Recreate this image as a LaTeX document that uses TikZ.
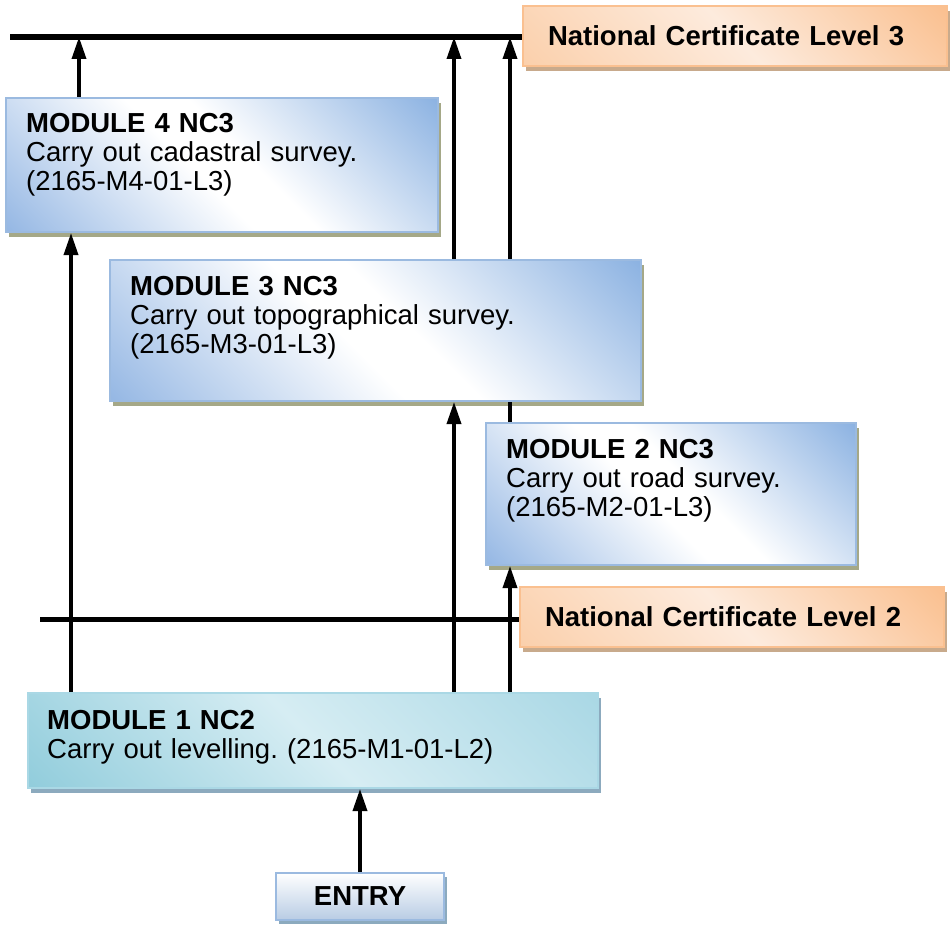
\documentclass[tikz,border=0pt]{standalone}
\usepackage{fontspec}
\setmainfont{Liberation Sans}
\usetikzlibrary{arrows.meta,shadows}
\frenchspacing

\definecolor{modblue}{RGB}{141,179,226}
\definecolor{modblueb}{RGB}{150,184,228}
\definecolor{modline}{RGB}{155,186,224}
\definecolor{modcyan}{RGB}{146,205,220}
\definecolor{modcyanb}{RGB}{170,216,229}
\definecolor{cyanlight}{RGB}{214,237,243}
\definecolor{cyanline}{RGB}{170,216,229}
\definecolor{ncorange}{RGB}{250,192,144}
\definecolor{ncorangeb}{RGB}{251,208,172}
\definecolor{nclight}{RGB}{253,235,221}
\definecolor{entryblue}{RGB}{184,204,228}
\definecolor{shadowgreen}{RGB}{165,168,135}
\definecolor{shadowbrown}{RGB}{200,170,140}
\definecolor{shadowblue}{RGB}{140,170,190}

\pgfdeclarehorizontalshading{bluediag}{100bp}{color(0bp)=(modblueb); color(15bp)=(modblueb); color(46bp)=(white); color(54bp)=(white); color(85bp)=(modblue); color(100bp)=(modblue)}
\pgfdeclarehorizontalshading{cyandiag}{100bp}{color(0bp)=(modcyan); color(15bp)=(modcyan); color(50bp)=(cyanlight); color(85bp)=(modcyanb); color(100bp)=(modcyanb)}
\pgfdeclarehorizontalshading{orangediag}{100bp}{color(0bp)=(ncorangeb); color(15bp)=(ncorangeb); color(50bp)=(nclight); color(85bp)=(ncorange); color(100bp)=(ncorange)}

\tikzset{
  modbox/.style={draw=modline, line width=2pt, shade, shading=bluediag, shading angle=45,
    drop shadow={shadow xshift=3pt, shadow yshift=-5pt, fill=shadowgreen, opacity=1},
    anchor=north west, inner sep=0pt},
  firstbox/.style={modbox, draw=cyanline, shading=cyandiag,
    drop shadow={shadow xshift=3pt, shadow yshift=-5pt, fill=shadowblue, opacity=1}},
  modtext/.style={anchor=base west, align=left, text width=520pt, inner sep=0pt},
  ncbox/.style={draw=ncorange, line width=2pt, shade, shading=orangediag, shading angle=45,
    drop shadow={shadow xshift=3pt, shadow yshift=-5pt, fill=shadowbrown, opacity=1},
    anchor=north west, inner xsep=25pt, inner ysep=0pt, text width=374pt, align=left,
    minimum height=60pt, font=\fontsize{27.5}{29}\selectfont\bfseries},
  entrybox/.style={draw=modline, line width=2pt, top color=white, bottom color=entryblue,
    drop shadow={shadow xshift=3pt, shadow yshift=-4pt, fill=shadowblue, opacity=1},
    minimum width=168pt, minimum height=47pt, inner sep=0pt, font=\fontsize{27.5}{29}\selectfont\bfseries},
  bar/.style={line width=6pt},
  link/.style={line width=3.5pt},
  arr/.style={link, -{Triangle[length=22pt,width=14pt]}}
}

\begin{document}
\begin{tikzpicture}[x=1pt,y=-1pt,font=\fontsize{27.5}{29}\selectfont]
  \useasboundingbox (0,0) rectangle (951,931);

  % qualification levels
  \node[ncbox] (nc3) at (522,5) {National Certificate Level 3};
  \node[ncbox] (nc2) at (519,586) {National Certificate Level 2};

  % modules
  \node[modbox, minimum width=432pt, minimum height=134pt] (m4) at (5,97) {};
  \node[modtext] (m4txt) at (26,133) {\textbf{MODULE 4 NC3}\\Carry out cadastral survey.\\(2165-M4-01-L3)};
  \node[modbox, minimum width=531pt, minimum height=141pt] (m3) at (109,259) {};
  \node[modtext] (m3txt) at (130,295) {\textbf{MODULE 3 NC3}\\Carry out topographical survey.\\(2165-M3-01-L3)};
  \node[modbox, minimum width=370pt, minimum height=142pt] (m2) at (485,422) {};
  \node[modtext] (m2txt) at (506,458) {\textbf{MODULE 2 NC3}\\Carry out road survey.\\(2165-M2-01-L3)};
  \node[firstbox, minimum width=570pt, minimum height=95pt] (m1) at (27,692) {};
  \node[modtext] (m1txt) at (47,729) {\textbf{MODULE 1 NC2}\\Carry out levelling. (2165-M1-01-L2)};

  \node[entrybox] (entry) at (360,896.5) {ENTRY};

  % level bars
  \coordinate (bar3) at (10,37);
  \coordinate (bar2) at (40,619);
  \draw[bar] (bar3) -- (bar3 -| nc3.west);
  \draw[line width=5pt] (bar2) -- (bar2 -| nc2.west);

  % routes
  \coordinate (c4u) at (79,0);
  \coordinate (c4d) at (71,0);
  \coordinate (c3) at (454,0);
  \coordinate (c2) at (510,0);
  \draw[arr] (entry.north) -- (entry.north |- m1.south);
  \foreach \c/\m in {c4d/m4, c3/m3, c2/m2}
    \draw[arr] (m1.north -| \c) -- (\m.south -| \c);
  \draw[link] (m2.north -| c2) -- (m3.south -| c2);
  \foreach \c/\m in {c4u/m4, c3/m3, c2/m3}
    \draw[arr] (\m.north -| \c) -- (bar3 -| \c);
\end{tikzpicture}
\end{document}
